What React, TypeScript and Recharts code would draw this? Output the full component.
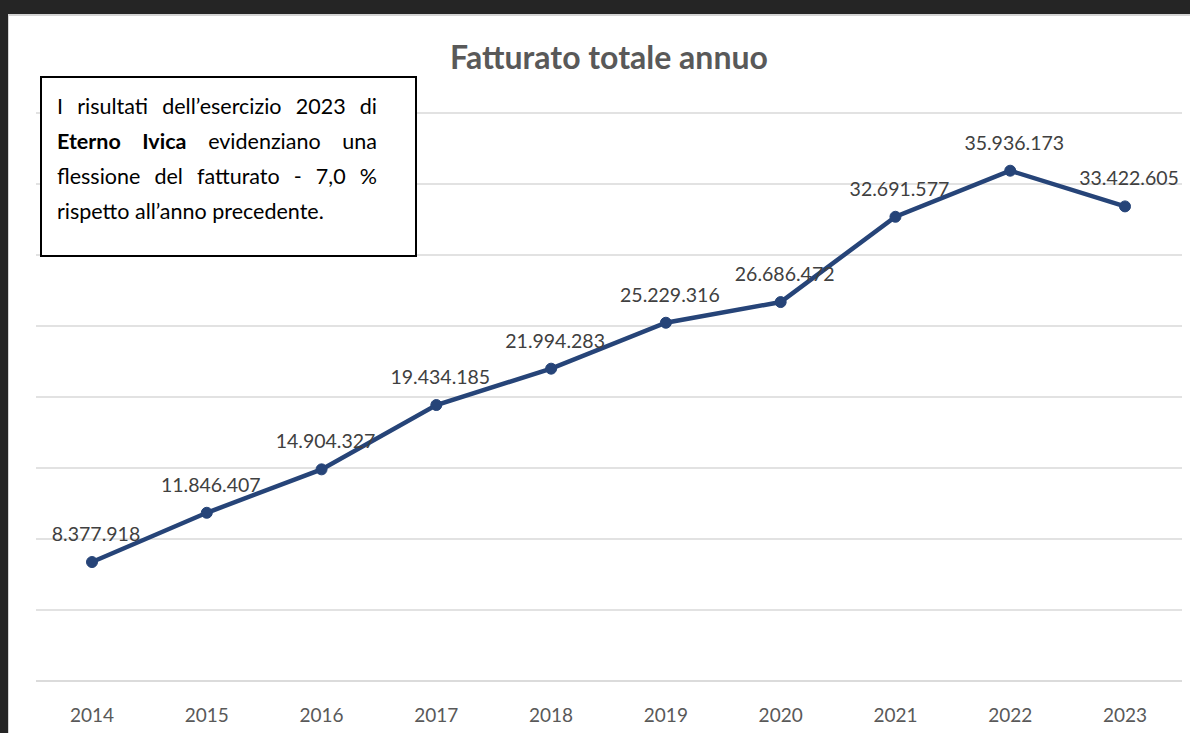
import React from "react";
import { LineChart, Line, XAxis, YAxis, CartesianGrid, LabelList } from "recharts";

const years = ["2014", "2015", "2016", "2017", "2018", "2019", "2020", "2021", "2022", "2023"];
const revenue = [8377918, 11846407, 14904327, 19434185, 21994283, 25229316, 26686472, 32691577, 35936173, 33422605];
const revenueLabels = ["8.377.918", "11.846.407", "14.904.327", "19.434.185", "21.994.283", "25.229.316", "26.686.472", "32.691.577", "35.936.173", "33.422.605"];
const yTicks = [0, 5000000, 10000000, 15000000, 20000000, 25000000, 30000000, 35000000, 40000000];

const data = years.map((y, i) => ({ year: y, value: revenue[i], label: revenueLabels[i] }));

const FONT = "Lato, 'Noto Sans', sans-serif";

const ValueLabel = (props: any) => {
  const { x, y, index } = props;
  return (
    <text x={x + 4} y={y - 21} textAnchor="middle" fill="#404040" fontSize={19.5} fontFamily={FONT}>
      {revenueLabels[index]}
    </text>
  );
};

const YearTick = (props: any) => {
  const { x, y, payload } = props;
  return (
    <text x={x} y={y + 33} textAnchor="middle" fill="#595959" fontSize={19} fontFamily={FONT}>
      {payload.value}
    </text>
  );
};

export default function App() {
  return (
    <div style={{ position: "absolute", left: 0, top: 0, width: 1190, height: 733, background: "#252525", overflow: "hidden" }}>
      <div style={{ position: "absolute", left: 8, top: 14, width: 1190, height: 733, background: "#ffffff", borderLeft: "1px solid #d4d4d4", borderTop: "2px solid #d4d4d4" }} />
      <div style={{ position: "absolute", left: 0, top: 0 }}>
        <LineChart width={1190} height={733} data={data} margin={{ top: 113, right: 8, bottom: 22, left: 36 }}>
          <CartesianGrid vertical={false} stroke="#d9d9d9" strokeWidth={1.5} />
          <XAxis
            dataKey="year"
            axisLine={{ stroke: "#d9d9d9", strokeWidth: 1.5 }}
            tickLine={false}
            height={30}
            tick={<YearTick />}
            interval={0}
            padding={{ left: 56, right: 57 }}
          />
          <YAxis hide domain={[0, 40000000]} ticks={yTicks} />
          <Line
            type="linear"
            dataKey="value"
            stroke="#264478"
            strokeWidth={4.5}
            dot={{ r: 5.5, fill: "#264478", stroke: "#264478", strokeWidth: 1 }}
            isAnimationActive={false}
          >
            <LabelList dataKey="label" content={<ValueLabel />} />
          </Line>
        </LineChart>
      </div>
      <div
        style={{
          position: "absolute",
          left: 0,
          top: 37,
          width: 1218,
          textAlign: "center",
          fontFamily: FONT,
          fontWeight: 700,
          fontSize: 32,
          color: "#595959",
        }}
      >
        Fatturato totale annuo
      </div>
      <div
        style={{
          position: "absolute",
          left: 40,
          top: 76,
          width: 373,
          height: 177,
          border: "2px solid #000000",
          background: "#ffffff",
          boxSizing: "content-box",
        }}
      >
        <div
          style={{
            position: "absolute",
            left: 15,
            top: 11,
            width: 320,
            fontFamily: FONT,
            fontSize: 21.5,
            lineHeight: "35px",
            color: "#000000",
            textAlign: "justify",
          }}
        >
          I risultati dell’esercizio 2023 di <b>Eterno Ivica</b> evidenziano una flessione del fatturato - 7,0 % rispetto all’anno precedente.
        </div>
      </div>
    </div>
  );
}
